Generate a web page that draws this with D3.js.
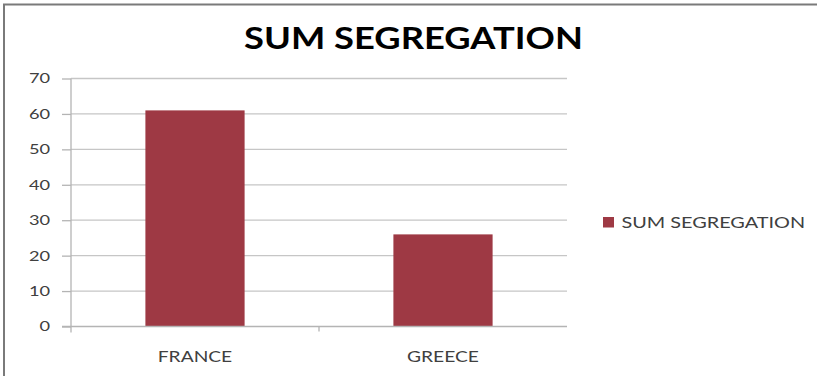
<!DOCTYPE html>
<html>
<head>
<meta charset="utf-8">
<script src="https://cdn.jsdelivr.net/npm/d3@7"></script>
<style>
  html, body { margin: 0; padding: 0; background: #fff; }
  svg { display: block; }
</style>
</head>
<body>
<svg id="chart" width="817" height="376"></svg>
<script>
// Chart data
const title = "SUM SEGREGATION";
const categories = ["FRANCE", "GREECE"];
const values = [61, 26];
const seriesName = "SUM SEGREGATION";
const yTicks = [0, 10, 20, 30, 40, 50, 60, 70];

const W = 817, H = 376;
const margin = { left: 71, top: 78.5 };
const plotRight = 567;
const plotBottom = 326.5;

const svg = d3.select("#chart");
const font = "Lato, 'Open Sans', sans-serif";
const barColor = "#9e3944";
const textColor = "#404040";
const axisColor = "#b4b4b4";

// Widen text horizontally by a factor, keeping its anchor
function widen(sel, factor) {
  sel.each(function () {
    const len = this.getComputedTextLength();
    d3.select(this).attr("textLength", len * factor).attr("lengthAdjust", "spacingAndGlyphs");
  });
}

// Outer frame: left and top edges
svg.append("line").attr("x1", 4).attr("x2", 4).attr("y1", 4).attr("y2", H)
  .attr("stroke", "#7a7a7a").attr("stroke-width", 2);
svg.append("line").attr("x1", 3).attr("x2", 817).attr("y1", 4.5).attr("y2", 4.5)
  .attr("stroke", "#7a7a7a").attr("stroke-width", 2);

const x = d3.scaleBand().domain(categories).range([margin.left, plotRight])
  .paddingInner(0.6).paddingOuter(0.3);
const y = d3.scaleLinear().domain([0, 70]).range([plotBottom, margin.top]);

// Gridlines
svg.append("g").selectAll("line").data(yTicks.filter(d => d > 0)).join("line")
  .attr("x1", margin.left).attr("x2", plotRight)
  .attr("y1", d => y(d)).attr("y2", d => y(d))
  .attr("stroke", "#c6c6c6").attr("stroke-width", 1.3);

// Y axis
const yAxis = svg.append("g").attr("transform", `translate(${margin.left},0)`)
  .call(d3.axisLeft(y).tickValues(yTicks).tickSize(9).tickPadding(12));
yAxis.select(".domain").attr("stroke", axisColor).attr("stroke-width", 1.3)
  .attr("d", `M0,${margin.top}V${plotBottom + 6}`);
yAxis.selectAll(".tick line").attr("stroke", axisColor).attr("stroke-width", 1.3);
yAxis.selectAll(".tick text").attr("fill", textColor)
  .style("font-family", font).style("font-size", "14px")
  .call(widen, 1.3);

// Bars
svg.append("g").selectAll("rect").data(values).join("rect")
  .attr("x", (d, i) => x(categories[i]))
  .attr("width", x.bandwidth())
  .attr("y", d => y(d))
  .attr("height", d => plotBottom - y(d))
  .attr("fill", barColor);

// X axis baseline with a tick between categories
const xAxis = svg.append("g").attr("transform", `translate(0,${plotBottom})`);
xAxis.append("line").attr("x1", margin.left - 9).attr("x2", plotRight)
  .attr("stroke", axisColor).attr("stroke-width", 1.3);
xAxis.append("line")
  .attr("x1", (margin.left + plotRight) / 2).attr("x2", (margin.left + plotRight) / 2)
  .attr("y1", 0).attr("y2", 5)
  .attr("stroke", axisColor).attr("stroke-width", 1.3);
xAxis.selectAll("text").data(categories).join("text")
  .attr("x", d => x(d) + x.bandwidth() / 2)
  .attr("y", 35.5)
  .attr("text-anchor", "middle")
  .attr("fill", textColor)
  .style("font-family", font).style("font-size", "16px")
  .text(d => d)
  .call(widen, 1.2);

// Title
svg.append("text")
  .attr("x", 413.5).attr("y", 48.5)
  .attr("text-anchor", "middle")
  .attr("fill", "#000")
  .style("font-family", font).style("font-weight", "bold").style("font-size", "30px")
  .text(title)
  .call(widen, 1.21);

// Legend
const legend = svg.append("g").attr("transform", "translate(603,217)");
legend.append("rect").attr("width", 11).attr("height", 10.5).attr("fill", barColor);
legend.append("text").attr("x", 18.5).attr("y", 11)
  .attr("fill", textColor)
  .style("font-family", font).style("font-size", "16px")
  .text(seriesName)
  .call(widen, 1.24);
</script>
</body>
</html>
